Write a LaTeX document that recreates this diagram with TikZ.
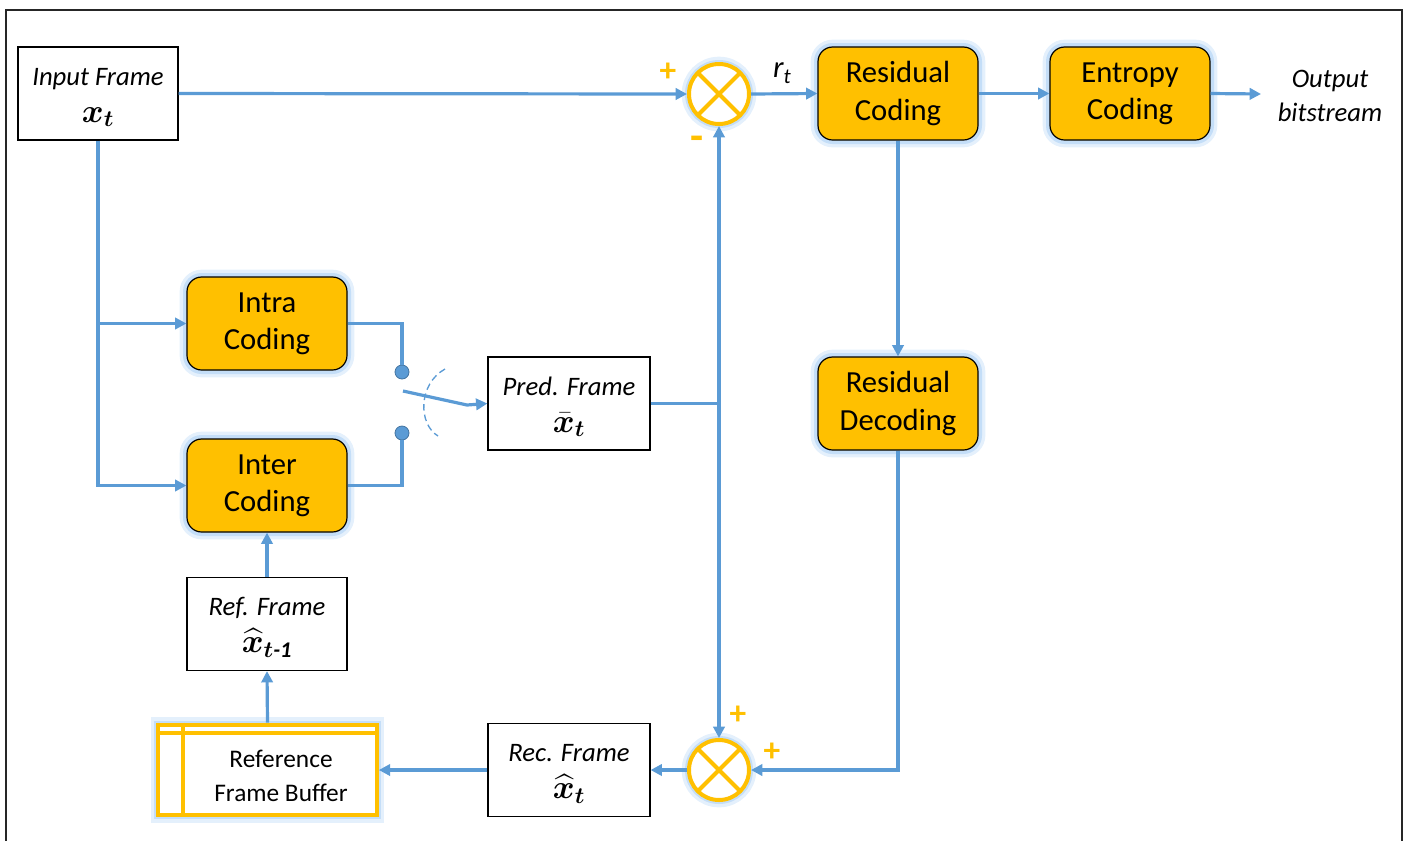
\documentclass[tikz,border=0pt]{standalone}
\usepackage{amsmath,bm}
\usepackage{fontspec}
\setmainfont{Carlito}
\usetikzlibrary{arrows.meta,calc}
\definecolor{lblue}{RGB}{91,155,213}
\definecolor{ored}{RGB}{255,192,0}
\definecolor{glow}{RGB}{196,222,248}
\newcommand{\mymath}[1]{{\fontsize{24}{24}\selectfont$#1$}}
\newcommand{\topstrut}{\rule{0pt}{19pt}}
\begin{document}
\begin{tikzpicture}[x=0.75pt,y=-0.75pt,
  blueline/.style={draw=lblue, line width=2.4pt},
  arr/.style={blueline, -{Triangle[length=8.5pt,width=8.5pt]}},
  glowing/.style={preaction={draw=glow!45, line width=11pt}, preaction={draw=glow, line width=6pt}},
  wbox/.style={draw=black, line width=0.9pt, fill=white, minimum width=120pt, minimum height=69.75pt, inner sep=0pt, align=center, font=\fontsize{20}{27.5}\selectfont\itshape},
  obox/.style={draw=black, line width=0.9pt, fill=ored, rounded corners=11pt, minimum width=120pt, minimum height=69.75pt, inner sep=0pt, align=center, font=\fontsize{23}{28}\selectfont, glowing},
  sumnode/.style={circle, draw=ored, line width=3pt, minimum size=45pt, inner sep=0pt, fill=white, glowing,
    path picture={\draw[ored, line width=3pt] (path picture bounding box.north west) -- (path picture bounding box.south east) (path picture bounding box.north east) -- (path picture bounding box.south west);}},
  dotnode/.style={circle, fill=lblue, draw=lblue!75!black, line width=0.6pt, minimum size=10.5pt, inner sep=0pt},
  sign/.style={text=ored, font=\fontsize{25}{25}\selectfont\bfseries, inner sep=0pt},
  itlabel/.style={align=center, font=\fontsize{20}{26}\selectfont\itshape, inner sep=0pt}
]
\useasboundingbox (0,0) rectangle (1407,840);
\draw[line width=1.4pt, draw=black!85] (6,845) -- (6,10) -- (1402,10) -- (1402,845);

% nodes
\node[wbox] (inp) at (98,93.5) {\topstrut Input Frame\\\mymath{\boldsymbol{x}_{\boldsymbol{t}}}};
\node[obox] (rc) at (898,93.5) {Residual\\Coding};
\node[obox] (ec) at (1130,93.5) {Entropy\\Coding};
\node[obox] (rd) at (898,403.5) {Residual\\Decoding};
\node[obox] (intra) at (267,323.5) {Intra\\Coding};
\node[obox] (inter) at (267,485.5) {Inter\\Coding};
\node[wbox, minimum width=121.5pt] (pred) at (569,403.5) {\topstrut Pred. Frame\\\mymath{\bar{\boldsymbol{x}}_{\boldsymbol{t}}}};
\node[wbox] (ref) at (267,624) {\topstrut Ref. Frame\\\mymath{\widehat{\boldsymbol{x}}_{\boldsymbol{t}\textbf{\textit{-1}}}}};
\node[wbox, minimum width=121.5pt] (rec) at (569,770) {\topstrut Rec. Frame\\\mymath{\widehat{\boldsymbol{x}}_{\boldsymbol{t}}}};
\node[sumnode] (s1) at (719,94) {};
\node[sumnode] (s2) at (719,770) {};
\node[draw=ored, line width=3pt, fill=white, minimum width=164pt, minimum height=68pt, inner sep=0pt, glowing] (rfb) at (267.5,770) {};
\draw[ored, line width=3pt] ($(rfb.north west)+(0,10)$) -- ($(rfb.north east)+(0,10)$)
  ($(rfb.north west)+(27,0)$) -- ($(rfb.south west)+(27,0)$);
\node[align=center, font=\fontsize{19}{26}\selectfont, inner sep=0pt] (rfbt) at (281,776) {Reference\\Frame Buffer};
\node[itlabel] (out) at (1330,96) {Output\\bitstream};
\node[inner sep=0pt, font=\fontsize{23}{23}\selectfont\itshape] (rt) at (782,73) {r\raisebox{-0.45ex}{\fontsize{16}{16}\selectfont t}};
\node[sign] (p1) at (668,72) {+};
\node[sign, font=\fontsize{32}{32}\selectfont\bfseries] (m1) at (697,143) {-};
\node[sign] (p2) at (738,715) {+};
\node[sign] (p3) at (772,752) {+};
\node[dotnode] (d1) at (402,372) {};
\node[dotnode] (d2) at (402,433) {};
\coordinate (sw1) at (403,391);
\coordinate (sw2) at (467,405);
\coordinate (oe) at (1261,94);
\coordinate (j) at (s1 |- pred.east);

% connectors
\draw[arr] (inp.east) -- (s1.west);
\draw[arr] (s1.east) -- (rc.west);
\draw[arr] (rc.east) -- (ec.west);
\draw[arr] (ec.east) -- (oe);
\draw[arr] (rc.south) -- (rd.north);
\draw[arr] (rd.south) |- (s2.east);
\draw[arr] (s2.west) -- (rec.east);
\draw[arr] (rec.west) -- (rfb.east);
\draw[arr] (rfb.north) -- (ref.south);
\draw[arr] (ref.north) -- (inter.south);
\draw[arr] (inp.south) |- (inter.west);
\draw[arr] (inp.south |- intra.west) -- (intra.west);
\draw[blueline] (intra.east) -| (d1.north);
\draw[blueline] (inter.east) -| (d2.south);
\draw[arr] (sw1) -- (sw2) -- (pred.west);
\draw[lblue, line width=1pt, dash pattern=on 5pt off 3pt] (445,369) .. controls (418,384) and (418,424) .. (438,436);
\draw[blueline] (pred.east) -- (j);
\draw[arr] (j) -- (s1.south);
\draw[arr] (j) -- (s2.north);
\end{tikzpicture}
\end{document}
